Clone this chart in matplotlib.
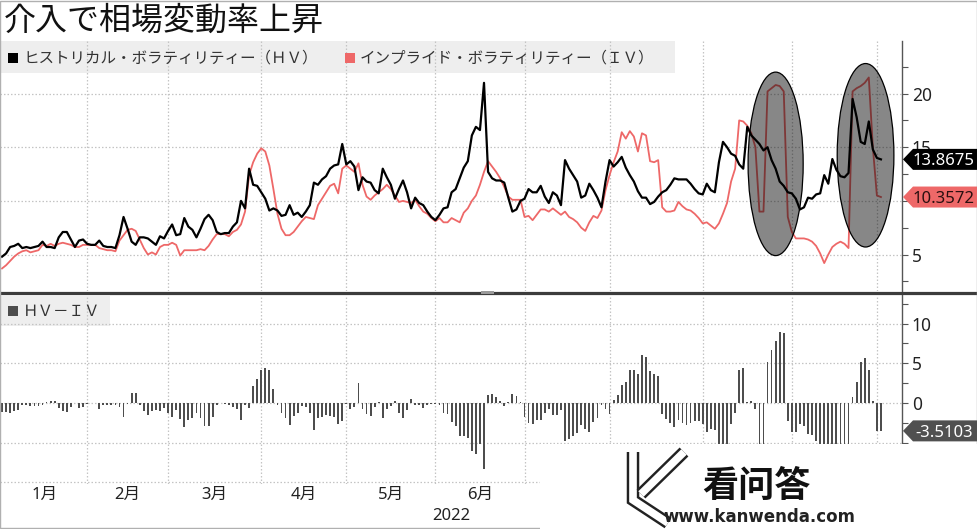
import matplotlib
matplotlib.use('Agg')
import matplotlib.pyplot as plt
import matplotlib.patheffects as pe
from matplotlib.patches import Ellipse, Rectangle, Polygon
from matplotlib.lines import Line2D
from matplotlib.ticker import MultipleLocator, FixedLocator, NullFormatter, FuncFormatter
import numpy as np
import pandas as pd

plt.rcParams['font.family'] = ['Noto Sans', 'Noto Sans CJK JP', 'DejaVu Sans']

# --- data -------------------------------------------------------------
dates = pd.bdate_range('2022-01-03', '2022-11-02')

hv = [4.8, 5.1, 5.7, 5.8, 6.0, 5.6, 5.7, 5.6, 5.7, 5.8,
      6.2, 5.7, 5.7, 5.6, 6.6, 7.1, 7.1, 6.4, 5.7, 6.3,
      6.4, 6.0, 5.9, 5.9, 6.3, 5.8, 5.7, 5.7, 5.6, 6.8,
      8.5, 7.4, 6.2, 5.9, 6.6, 6.6, 6.5, 6.2, 5.9, 6.7,
      6.5, 7.2, 7.8, 6.8, 6.9, 8.4, 7.6, 7.3, 6.6, 7.4,
      8.3, 8.7, 8.2, 7.1, 6.9, 7.0, 7.0, 7.6, 8.0, 10.0,
      9.3, 13.0, 11.5, 11.4, 10.8, 10.2, 9.1, 9.3, 9.1, 8.6,
      8.7, 9.6, 8.7, 8.9, 8.5, 9.0, 9.6, 11.7, 11.5, 12.0,
      12.3, 13.0, 13.3, 13.4, 15.3, 13.4, 13.7, 13.2, 11.0, 12.2,
      11.8, 11.7, 11.0, 10.7, 13.0, 12.2, 11.5, 10.2, 11.1, 11.9,
      10.8, 9.3, 10.3, 9.8, 9.6, 9.0, 8.5, 8.2, 8.7, 9.3,
      9.4, 10.8, 11.1, 12.1, 13.1, 13.7, 16.1, 16.9, 16.6, 21.0,
      12.7, 12.1, 11.9, 11.9, 11.7, 10.3, 9.0, 9.2, 10.0, 10.2,
      11.1, 10.8, 10.8, 11.4, 10.4, 9.8, 10.8, 10.5, 9.6, 13.8,
      13.0, 12.4, 11.8, 10.3, 10.5, 11.6, 11.0, 10.3, 9.4, 11.8,
      13.8, 13.2, 13.6, 14.1, 13.1, 12.4, 11.8, 10.9, 10.3, 10.3,
      9.7, 9.9, 10.4, 10.8, 11.0, 11.5, 12.1, 12.0, 12.0, 12.0,
      11.6, 11.1, 10.7, 10.6, 11.6, 11.0, 10.8, 13.6, 15.5, 15.0,
      14.4, 14.2, 13.4, 13.0, 16.9, 16.1, 15.7, 15.3, 14.7, 15.0,
      13.8, 13.0, 11.8, 11.4, 10.8, 10.7, 10.2, 9.2, 9.4, 10.3,
      10.2, 10.6, 10.7, 12.4, 11.6, 13.9, 12.9, 12.3, 12.2, 12.6,
      19.5, 17.8, 15.5, 15.3, 17.4, 14.8, 14.0, 13.8675]

iv = [3.7, 4.0, 4.4, 4.8, 5.1, 5.3, 5.4, 5.2, 5.3, 5.4,
      5.9, 5.8, 6.0, 5.8, 6.0, 6.1, 6.0, 5.9, 5.7, 5.7,
      5.9, 5.9, 5.9, 5.9, 5.6, 5.5, 5.4, 5.4, 5.3, 6.3,
      6.8, 7.3, 7.4, 7.2, 6.4, 5.6, 5.0, 5.2, 5.0, 5.7,
      5.9, 5.9, 6.1, 5.9, 4.9, 5.4, 5.4, 5.4, 5.4, 5.5,
      5.4, 5.8, 6.4, 6.9, 6.9, 6.9, 6.7, 7.1, 7.3, 7.8,
      9.0, 12.4, 13.6, 14.4, 14.9, 14.6, 13.3, 11.1, 8.8, 7.4,
      6.8, 6.8, 7.1, 7.6, 8.1, 8.5, 8.4, 8.3, 9.6, 10.2,
      10.8, 11.4, 11.6, 10.7, 13.0, 13.3, 13.0, 12.7, 13.5, 11.5,
      10.4, 10.1, 10.5, 10.8, 11.1, 11.5, 11.1, 10.5, 9.9, 10.0,
      9.9, 9.8, 10.1, 9.5, 9.0, 8.8, 8.4, 8.1, 8.4, 8.0,
      8.0, 8.4, 8.2, 8.0, 8.9, 9.3, 10.0, 10.5, 11.5, 12.7,
      13.7, 13.2, 12.7, 12.1, 11.3, 10.4, 10.1, 10.1, 10.1, 8.5,
      8.6, 8.2, 8.7, 9.2, 9.2, 9.0, 9.3, 9.0, 8.7, 9.0,
      8.5, 8.3, 8.0, 7.5, 7.2, 8.0, 8.6, 8.4, 9.1, 11.0,
      12.4, 13.6, 14.6, 16.4, 15.8, 16.5, 16.0, 14.6, 16.3, 16.1,
      13.7, 13.6, 13.8, 9.4, 9.0, 9.0, 9.1, 9.9, 9.5, 9.2,
      9.1, 8.8, 8.4, 7.9, 8.0, 7.7, 7.4, 7.9, 8.8, 9.8,
      11.8, 13.0, 17.5, 17.4, 17.0, 16.3, 15.0, 9.0, 9.0, 20.2,
      20.5, 20.8, 20.7, 20.2, 8.5, 7.1, 6.5, 6.5, 6.5, 6.4,
      6.2, 5.8, 5.1, 4.2, 5.0, 5.7, 6.0, 6.2, 6.0, 5.6,
      20.2, 20.5, 20.7, 21.0, 21.5, 15.0, 10.5, 10.3572]

month_names = ['1月', '2月', '3月', '4月', '5月', '6月', '7月', '8月', '9月', '10月']
title = '介入で相場変動率上昇'
hv_label = 'ヒストリカル・ボラティリティー（ＨＶ）'
iv_label = 'インプライド・ボラティリティー（ＩＶ）'
diff_label = 'ＨＶ－ＩＶ'

# --- derived -----------------------------------------------------------
x = np.arange(len(dates))
hv = np.array(hv)
iv = np.array(iv)
spread = iv - hv
month_start = [i for i in range(1, len(dates)) if dates[i].month != dates[i - 1].month]
bounds = [0] + month_start
month_mid = [(bounds[k] + bounds[k + 1]) / 2 for k in range(len(bounds) - 1)]

W, H = 977, 529
BOX_LEFT = 540          # left edge (px) of the pasted watermark box
fig = plt.figure(figsize=(W / 100, H / 100), dpi=100)
fig.patch.set_facecolor('white')

RED = '#ee6868'
GRID = '#c4c4c4'
SPINE = '#555555'


def fpt(px, py):
    return px / W, 1 - py / H


def style_axis(ax, hidden_labels=()):
    for s in ['top', 'left', 'bottom']:
        ax.spines[s].set_visible(False)
    ax.spines['right'].set_color(SPINE)
    ax.spines['right'].set_linewidth(1.0)
    ax.yaxis.tick_right()
    ax.yaxis.set_major_locator(MultipleLocator(5))
    ax.yaxis.set_minor_locator(MultipleLocator(2.5))
    # labels sitting fully under a value tag are not visible in the reference
    ax.yaxis.set_major_formatter(FuncFormatter(
        lambda v, p: '' if round(v) in hidden_labels else f'{v:.0f}'.replace('-', '\u2212')))
    ax.tick_params(axis='y', which='both', direction='out', length=4, width=0.8,
                   color=SPINE, labelsize=12.5, labelcolor='#222222', pad=3)
    ax.xaxis.set_major_locator(FixedLocator(month_start))
    ax.xaxis.set_major_formatter(NullFormatter())
    ax.tick_params(axis='x', which='both', length=0)
    ax.grid(True, which='major', color=GRID, linestyle=(0, (1.2, 1.6)), linewidth=0.9)
    ax.set_axisbelow(True)
    ax.set_xlim(-0.5, 222.2)


# --- top panel -----------------------------------------------------------
ax1 = fig.add_axes([0, 1 - 291 / H, 902 / W, 250 / H])
style_axis(ax1, hidden_labels=(10,))
ax1.set_ylim(1.6, 24.9)
ax1.add_patch(Rectangle((0, 0.872), 675 / 902, 0.128, transform=ax1.transAxes,
                        facecolor='#eeeeee', edgecolor='none', zorder=0.2))
ax1.plot(x, iv, color=RED, lw=1.3, zorder=3)
ax1.plot(x, hv, color='black', lw=1.6, zorder=4)
for cx, cy, ew, eh in [(191.0, 13.45, 13.6, 17.1), (213.2, 14.25, 14.0, 17.1)]:
    ax1.add_patch(Ellipse((cx, cy), ew, eh, facecolor=(0, 0, 0, 0.47),
                          edgecolor='black', lw=0.9, zorder=5))

# --- bottom panel --------------------------------------------------------
ax2 = fig.add_axes([0, 1 - 484 / H, 902 / W, 189 / H])
style_axis(ax2, hidden_labels=(-5, -10))
ax2.set_ylim(-10.2, 13.6)
ax2.add_patch(Rectangle((0, 0.836), 110 / 902, 0.16, transform=ax2.transAxes,
                        facecolor='#eeeeee', edgecolor='none', zorder=0.2))
ax2.bar(x, spread, width=0.45, color='#4d4d4d', zorder=3)

# month labels: only those left of the watermark box are visible in the reference
xpix = lambda v: ax2.transData.transform((v, 0))[0]
shown = [(m, n) for m, n in zip(month_mid, month_names) if xpix(m) + 12 < BOX_LEFT]
ax2.xaxis.set_minor_locator(FixedLocator([m for m, _ in shown]))
ax2.xaxis.set_minor_formatter(plt.FixedFormatter([n for _, n in shown]))
ax2.tick_params(axis='x', which='minor', labelsize=12, pad=2, labelcolor='#222222')

# --- texts ---------------------------------------------------------------
cjk = ['Noto Sans CJK JP', 'DejaVu Sans']
fig.text(*fpt(4, 21), title, family=cjk, fontsize=23, va='center', ha='left', color='#111111')
fig.text(*fpt(23, 58), hv_label, family=cjk, fontsize=11.2, va='center', color='#333333')
fig.text(*fpt(360, 58), iv_label, family=cjk, fontsize=11.2, va='center', color='#333333')
fig.text(*fpt(23, 311), diff_label, family=cjk, fontsize=11.2, va='center', color='#333333')
for (sx, sy, c) in [(8, 53, 'black'), (345, 53, RED), (8, 306, '#4d4d4d')]:
    fig.add_artist(Rectangle(fpt(sx, sy + 10), 10 / W, 10 / H, transform=fig.transFigure,
                             facecolor=c, edgecolor='none'))
fig.text(*fpt(451, 516), '2022', fontsize=12, ha='center', va='center', color='#222222')

# panel separator and frame
fig.add_artist(Line2D([0, 1], [1 - 292.5 / H] * 2, transform=fig.transFigure,
                      color='#3c3c3c', lw=2.3, zorder=3))
fig.add_artist(Rectangle(fpt(481, 294), 13 / W, 3 / H, transform=fig.transFigure,
                         facecolor='#9a9a9a', edgecolor='none', zorder=3.5))
fig.add_artist(Rectangle((0.0005, 0.001), 0.999, 0.998, transform=fig.transFigure,
                         facecolor='none', edgecolor='#b0b0b0', lw=1.0, zorder=3))


# value tags on the right
def tag(ax, value, text, face, tcolor):
    ypix = H - ax.transData.transform((0, value))[1]
    pts = [fpt(903, ypix), fpt(913, ypix - 10.5), fpt(977, ypix - 10.5),
           fpt(977, ypix + 10.5), fpt(913, ypix + 10.5)]
    fig.add_artist(Polygon(pts, closed=True, transform=fig.transFigure,
                           facecolor=face, edgecolor='none', zorder=12))
    fig.text(*fpt(944, ypix), text, fontsize=12, color=tcolor,
             ha='center', va='center_baseline', zorder=13)


# watermark box pasted over the lower right
fig.add_artist(Rectangle(fpt(BOX_LEFT, 529), (W - BOX_LEFT) / W, 85 / H, transform=fig.transFigure,
                         facecolor='white', edgecolor='none', zorder=10))
fig.text(*fpt(756, 486), '看问答', family=['Noto Sans CJK SC', 'DejaVu Sans'],
         fontsize=26, fontweight='bold', ha='center', va='center', color='#111111', zorder=11)
fig.text(*fpt(759, 517), 'www.kanwenda.com', family=['Liberation Sans Narrow', 'DejaVu Sans'],
         fontsize=12, fontweight='bold', ha='center', va='center', color='#222222', zorder=11)
outline = [pe.Stroke(linewidth=9, foreground='#222222'), pe.Normal()]
for xs, ys in [([633, 633, 668], [452, 500, 523]), ([641, 684], [494, 452])]:
    fx_, fy_ = zip(*[fpt(a, b) for a, b in zip(xs, ys)])
    fig.add_artist(Line2D(fx_, fy_, transform=fig.transFigure, color='white', lw=5.5,
                          solid_capstyle='butt', solid_joinstyle='miter',
                          path_effects=outline, zorder=11))

tag(ax1, hv[-1], f'{hv[-1]:.4f}', 'black', 'white')
tag(ax1, iv[-1], f'{iv[-1]:.4f}', RED, '#2a1010')
tag(ax2, spread[-1], f'{spread[-1]:.4f}', '#505050', 'white')

fig.savefig('out.png', dpi=100, facecolor='white')
